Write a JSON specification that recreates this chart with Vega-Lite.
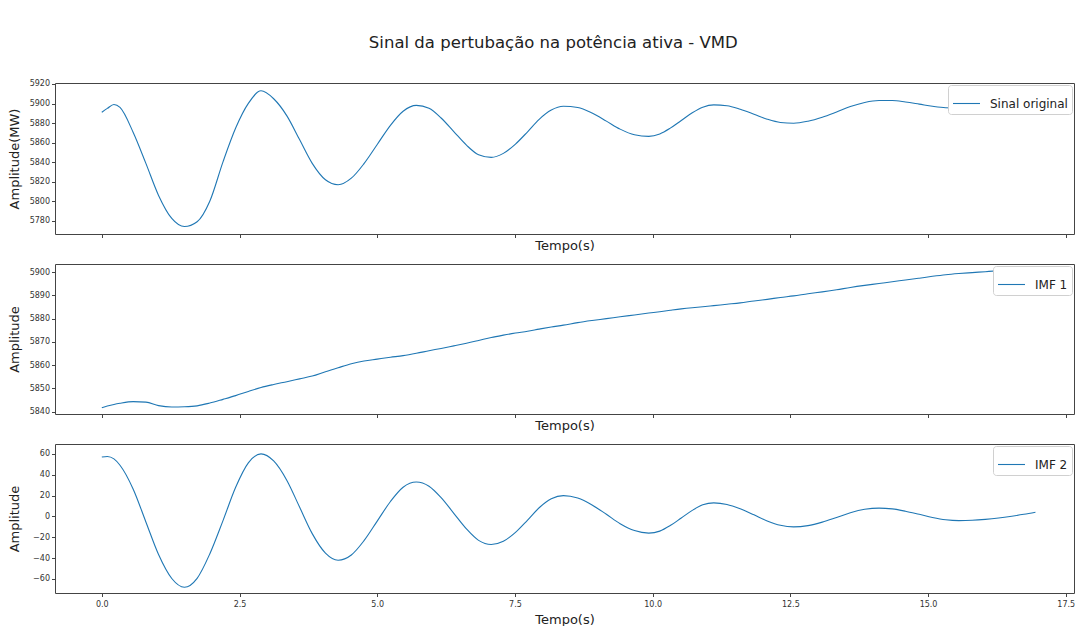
{
  "$schema": "https://vega.github.io/schema/vega-lite/v6.json",
  "background": "white",
  "padding": {"left": 7, "top": 34, "right": 8, "bottom": 2},
  "title": {
    "text": "Sinal da pertubação na potência ativa - VMD",
    "fontSize": 16.5,
    "font": "DejaVu Sans",
    "fontWeight": "normal",
    "color": "#222",
    "offset": 28,
    "dx": 12,
    "anchor": "middle"
  },
  "data": {
    "values": [
      {"t": 0, "orig": 5891, "imf1": 5841.7, "imf2": 57},
      {"t": 0.1, "orig": 5895, "imf1": 5842.4, "imf2": 57.5},
      {"t": 0.22, "orig": 5899, "imf1": 5843.1, "imf2": 55.2},
      {"t": 0.33, "orig": 5896, "imf1": 5843.6, "imf2": 49.1},
      {"t": 0.57, "orig": 5870.4, "imf1": 5844.3, "imf2": 26.1},
      {"t": 0.8, "orig": 5838.8, "imf1": 5844.1, "imf2": -5.3},
      {"t": 1.03, "orig": 5806, "imf1": 5842.6, "imf2": -36.6},
      {"t": 1.27, "orig": 5782.4, "imf1": 5842, "imf2": -59.6},
      {"t": 1.5, "orig": 5774.1, "imf1": 5842.1, "imf2": -68},
      {"t": 1.73, "orig": 5779, "imf1": 5842.5, "imf2": -59.4},
      {"t": 1.96, "orig": 5800, "imf1": 5843.7, "imf2": -36},
      {"t": 2.2, "orig": 5840.3, "imf1": 5845.3, "imf2": -4},
      {"t": 2.43, "orig": 5874.9, "imf1": 5846.9, "imf2": 28},
      {"t": 2.66, "orig": 5900.1, "imf1": 5848.7, "imf2": 51.4},
      {"t": 2.89, "orig": 5913, "imf1": 5850.4, "imf2": 60},
      {"t": 3.12, "orig": 5904.9, "imf1": 5851.7, "imf2": 53.2},
      {"t": 3.36, "orig": 5887.4, "imf1": 5852.9, "imf2": 34.5},
      {"t": 3.59, "orig": 5863.1, "imf1": 5854.1, "imf2": 9},
      {"t": 3.82, "orig": 5838.8, "imf1": 5855.3, "imf2": -16.5},
      {"t": 4.06, "orig": 5822, "imf1": 5857.2, "imf2": -35.2},
      {"t": 4.29, "orig": 5816.9, "imf1": 5858.9, "imf2": -42},
      {"t": 4.53, "orig": 5823.6, "imf1": 5860.6, "imf2": -37},
      {"t": 4.76, "orig": 5838.5, "imf1": 5861.8, "imf2": -23.3},
      {"t": 5.0, "orig": 5858.1, "imf1": 5862.6, "imf2": -4.5},
      {"t": 5.24, "orig": 5877.7, "imf1": 5863.4, "imf2": 14.3},
      {"t": 5.47, "orig": 5892.1, "imf1": 5864.1, "imf2": 28},
      {"t": 5.71, "orig": 5898.1, "imf1": 5865.1, "imf2": 33},
      {"t": 5.94, "orig": 5895.2, "imf1": 5866.2, "imf2": 29},
      {"t": 6.16, "orig": 5885.2, "imf1": 5867.2, "imf2": 18},
      {"t": 6.39, "orig": 5871.3, "imf1": 5868.3, "imf2": 3},
      {"t": 6.62, "orig": 5857.4, "imf1": 5869.4, "imf2": -12},
      {"t": 6.84, "orig": 5847.6, "imf1": 5870.6, "imf2": -23},
      {"t": 7.07, "orig": 5844.9, "imf1": 5871.9, "imf2": -27},
      {"t": 7.29, "orig": 5849, "imf1": 5872.9, "imf2": -23.9},
      {"t": 7.51, "orig": 5858.5, "imf1": 5873.8, "imf2": -15.3},
      {"t": 7.73, "orig": 5871.1, "imf1": 5874.6, "imf2": -3.5},
      {"t": 7.94, "orig": 5883.8, "imf1": 5875.5, "imf2": 8.3},
      {"t": 8.16, "orig": 5893.3, "imf1": 5876.4, "imf2": 16.9},
      {"t": 8.38, "orig": 5897.2, "imf1": 5877.2, "imf2": 20},
      {"t": 8.64, "orig": 5895.9, "imf1": 5878.3, "imf2": 17.6},
      {"t": 8.9, "orig": 5890.2, "imf1": 5879.2, "imf2": 11},
      {"t": 9.16, "orig": 5882, "imf1": 5880, "imf2": 2},
      {"t": 9.41, "orig": 5873.8, "imf1": 5880.8, "imf2": -7},
      {"t": 9.67, "orig": 5868, "imf1": 5881.6, "imf2": -13.6},
      {"t": 9.93, "orig": 5866.4, "imf1": 5882.4, "imf2": -16},
      {"t": 10.13, "orig": 5868.9, "imf1": 5883, "imf2": -14.1},
      {"t": 10.32, "orig": 5874.8, "imf1": 5883.6, "imf2": -8.8},
      {"t": 10.52, "orig": 5882.7, "imf1": 5884.2, "imf2": -1.5},
      {"t": 10.72, "orig": 5890.5, "imf1": 5884.7, "imf2": 5.8},
      {"t": 10.91, "orig": 5896.2, "imf1": 5885.1, "imf2": 11.1},
      {"t": 11.11, "orig": 5898.6, "imf1": 5885.6, "imf2": 13},
      {"t": 11.35, "orig": 5897.7, "imf1": 5886.2, "imf2": 11.5},
      {"t": 11.59, "orig": 5894.1, "imf1": 5886.8, "imf2": 7.3},
      {"t": 11.84, "orig": 5889.1, "imf1": 5887.6, "imf2": 1.5},
      {"t": 12.08, "orig": 5884, "imf1": 5888.3, "imf2": -4.3},
      {"t": 12.32, "orig": 5880.6, "imf1": 5889.1, "imf2": -8.5},
      {"t": 12.56, "orig": 5879.8, "imf1": 5889.8, "imf2": -10},
      {"t": 12.82, "orig": 5881.9, "imf1": 5890.7, "imf2": -8.8},
      {"t": 13.08, "orig": 5886, "imf1": 5891.5, "imf2": -5.5},
      {"t": 13.34, "orig": 5891.4, "imf1": 5892.4, "imf2": -1},
      {"t": 13.59, "orig": 5896.9, "imf1": 5893.4, "imf2": 3.5},
      {"t": 13.85, "orig": 5901.1, "imf1": 5894.3, "imf2": 6.8},
      {"t": 14.11, "orig": 5903.1, "imf1": 5895.1, "imf2": 8},
      {"t": 14.35, "orig": 5903.1, "imf1": 5895.9, "imf2": 7.2},
      {"t": 14.59, "orig": 5901.6, "imf1": 5896.6, "imf2": 5},
      {"t": 14.84, "orig": 5899.4, "imf1": 5897.4, "imf2": 2},
      {"t": 15.08, "orig": 5897.2, "imf1": 5898.2, "imf2": -1},
      {"t": 15.32, "orig": 5895.7, "imf1": 5898.9, "imf2": -3.2},
      {"t": 15.56, "orig": 5895.4, "imf1": 5899.4, "imf2": -4},
      {"t": 15.8, "orig": 5896.1, "imf1": 5899.8, "imf2": -3.7},
      {"t": 16.04, "orig": 5897.4, "imf1": 5900.2, "imf2": -2.8},
      {"t": 16.28, "orig": 5899.1, "imf1": 5900.6, "imf2": -1.5},
      {"t": 16.52, "orig": 5901.1, "imf1": 5900.9, "imf2": 0.2},
      {"t": 16.74, "orig": 5903.1, "imf1": 5901.1, "imf2": 2},
      {"t": 16.95, "orig": 5905.3, "imf1": 5901.3, "imf2": 4}
    ]
  },
  "config": {
    "font": "DejaVu Sans",
    "view": {"stroke": "#444", "strokeWidth": 1},
    "axis": {
      "grid": false,
      "domain": false,
      "tickColor": "#444",
      "tickSize": 3.5,
      "labelFontSize": 8,
      "labelColor": "#333",
      "titleFontSize": 13,
      "titleFontWeight": "normal",
      "titleColor": "#222"
    },
    "axisY": {"minExtent": 30, "maxExtent": 30, "titlePadding": 4},
    "legend": {
      "orient": "top-right",
      "offset": 2,
      "padding": 4,
      "strokeColor": "#d0d0d0",
      "fillColor": "white",
      "cornerRadius": 3,
      "symbolType": "stroke",
      "symbolStrokeWidth": 1.3,
      "symbolSize": 729,
      "labelFontSize": 12,
      "labelColor": "#222",
      "labelOffset": 9,
      "title": null
    },
    "line": {"strokeWidth": 1.1, "interpolate": "monotone"}
  },
  "bounds": "flush",
  "spacing": 30,
  "resolve": {"scale": {"color": "independent", "y": "independent"}, "legend": {"color": "independent"}},
  "vconcat": [
    {
      "width": 1019,
      "height": 151,
      "mark": {"type": "line"},
      "encoding": {
        "x": {"field": "t", "type": "quantitative", "scale": {"domain": [-0.85, 17.65], "nice": false, "zero": false},
              "axis": {"values": [0, 2.5, 5, 7.5, 10, 12.5, 15, 17.5], "labels": false, "title": "Tempo(s)", "titlePadding": 1}},
        "y": {"field": "orig", "type": "quantitative", "scale": {"domain": [5766.5, 5921], "nice": false, "zero": false},
              "axis": {"values": [5780, 5800, 5820, 5840, 5860, 5880, 5900, 5920], "format": "d", "title": "Amplitude(MW)"}},
        "color": {"datum": "Sinal original", "scale": {"range": ["#1f77b4"]}}
      }
    },
    {
      "width": 1019,
      "height": 150,
      "mark": {"type": "line"},
      "encoding": {
        "x": {"field": "t", "type": "quantitative", "scale": {"domain": [-0.85, 17.65], "nice": false, "zero": false},
              "axis": {"values": [0, 2.5, 5, 7.5, 10, 12.5, 15, 17.5], "labels": false, "title": "Tempo(s)", "titlePadding": 1}},
        "y": {"field": "imf1", "type": "quantitative", "scale": {"domain": [5839, 5903.5], "nice": false, "zero": false},
              "axis": {"values": [5840, 5850, 5860, 5870, 5880, 5890, 5900], "format": "d", "title": "Amplitude"}},
        "color": {"datum": "IMF 1", "scale": {"range": ["#1f77b4"]}}
      }
    },
    {
      "width": 1019,
      "height": 149,
      "mark": {"type": "line"},
      "encoding": {
        "x": {"field": "t", "type": "quantitative", "scale": {"domain": [-0.85, 17.65], "nice": false, "zero": false},
              "axis": {"values": [0, 2.5, 5, 7.5, 10, 12.5, 15, 17.5], "format": ".1f", "labelPadding": 4, "title": "Tempo(s)", "titlePadding": 5}},
        "y": {"field": "imf2", "type": "quantitative", "scale": {"domain": [-73.5, 69.5], "nice": false, "zero": false},
              "axis": {"values": [-60, -40, -20, 0, 20, 40, 60], "format": "d", "title": "Amplitude"}},
        "color": {"datum": "IMF 2", "scale": {"range": ["#1f77b4"]}}
      }
    }
  ]
}
